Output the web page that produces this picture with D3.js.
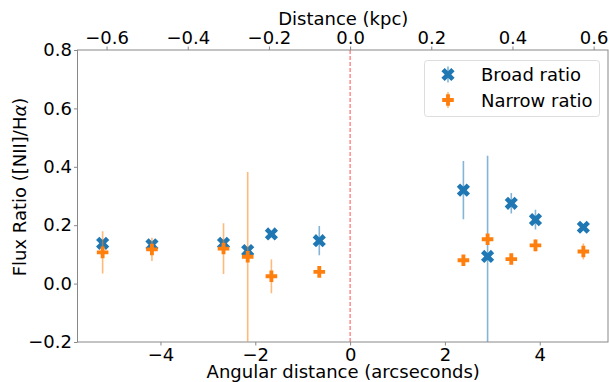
<!DOCTYPE html>
<html>
<head>
<meta charset="utf-8">
<script src="https://cdn.jsdelivr.net/npm/d3@7"></script>
<style>
  body { margin: 0; background: #fff; }
  text { font-family: "DejaVu Sans", sans-serif; }
</style>
</head>
<body>
<script>
// angular offsets (arcsec) and flux ratios
var angDist = [-5.22, -4.18, -2.67, -2.16, -1.66, -0.65, 2.39, 2.90, 3.40, 3.91, 4.92];
var broad = [0.138, 0.133, 0.138, 0.113, 0.170, 0.147, 0.320, 0.093, 0.275, 0.219, 0.193];
var broadErr = [0.012, 0.010, 0.012, 0.010, 0.008, 0.050, 0.100, 0.345, 0.035, 0.034, 0.008];
var narrow = [0.107, 0.117, 0.120, 0.092, 0.025, 0.040, 0.080, 0.152, 0.084, 0.131, 0.110];
var narrowErr = [0.072, 0.040, 0.087, 0.290, 0.058, 0.010, 0.010, 0.010, 0.010, 0.020, 0.027];
var yTicks = [-0.2, 0, 0.2, 0.4, 0.6, 0.8];
var xTicks = [-4, -2, 0, 2, 4];
var kpcTicks = [-0.6, -0.4, -0.2, 0, 0.2, 0.4, 0.6];
var kpcPerArcsec = 0.1168;

var W = 609, H = 382,
	pLeft = 77.5, pRight = 608, pTop = 50, pBottom = 342,
	fs = 18;

var svg = d3.select("body").append("svg")
	.attr("width", W)
	.attr("height", H);

var x = d3.scaleLinear().domain([-5.75, 5.44]).range([pLeft, pRight]);
var xk = d3.scaleLinear().domain([-5.75 * kpcPerArcsec, 5.44 * kpcPerArcsec]).range([pLeft, pRight]);
var y = d3.scaleLinear().domain([-0.2, 0.8]).range([pBottom, pTop]);

var fmt = function(d) { return d3.format(".1f")(d).replace("-", "\u2212"); };
var fmtInt = function(d) { return String(d).replace("-", "\u2212"); };

function styleAxis(g) {
	g.select(".domain").remove();
	g.selectAll(".tick line").attr("stroke", "#888");
	g.selectAll(".tick text").attr("font-size", fs).attr("fill", "#000");
}

svg.append("g")
	.attr("transform", "translate(0," + pBottom + ")")
	.call(d3.axisBottom(x).tickValues(xTicks).tickFormat(fmtInt).tickSize(3.5).tickPadding(3))
	.call(styleAxis);

svg.append("g")
	.attr("transform", "translate(0," + pTop + ")")
	.call(d3.axisTop(xk).tickValues(kpcTicks).tickFormat(fmt).tickSize(3.5).tickPadding(3))
	.call(styleAxis);

svg.append("g")
	.attr("transform", "translate(" + pLeft + ",0)")
	.call(d3.axisLeft(y).tickValues(yTicks).tickFormat(fmt).tickSize(3.5).tickPadding(2))
	.call(styleAxis);

// zero line
svg.append("line")
	.attr("x1", x(0)).attr("x2", x(0))
	.attr("y1", pTop).attr("y2", pBottom)
	.attr("stroke", "red")
	.attr("stroke-opacity", 0.7)
	.attr("stroke-width", 1)
	.attr("stroke-dasharray", "4,2");

// markers: matplotlib style filled plus ('P') and filled x ('X')
function plusPath(h) {
	var a = h / 3;
	return "M" + [[-a, -h], [a, -h], [a, -a], [h, -a], [h, a], [a, a], [a, h], [-a, h], [-a, a], [-h, a], [-h, -a], [-a, -a]]
		.map(function(p) { return p.join(","); }).join("L") + "Z";
}

svg.append("clipPath").attr("id", "plotclip")
	.append("rect").attr("x", pLeft).attr("y", pTop)
	.attr("width", pRight - pLeft).attr("height", pBottom - pTop);

var plot = svg.append("g").attr("clip-path", "url(#plotclip)");

function drawSeries(vals, errs, color, path, rot) {
	var data = angDist.map(function(d, i) { return { x: d, v: vals[i], e: errs[i] }; });
	plot.append("g").selectAll("line")
		.data(data)
		.enter().append("line")
		.attr("x1", function(d) { return x(d.x); })
		.attr("x2", function(d) { return x(d.x); })
		.attr("y1", function(d) { return y(d.v - d.e); })
		.attr("y2", function(d) { return y(d.v + d.e); })
		.attr("stroke", color)
		.attr("stroke-opacity", 0.55)
		.attr("stroke-width", 1.6);
	plot.append("g").selectAll("path")
		.data(data)
		.enter().append("path")
		.attr("d", path)
		.attr("transform", function(d) { return "translate(" + x(d.x) + "," + y(d.v) + ") rotate(" + rot + ")"; })
		.attr("fill", color);
}

drawSeries(broad, broadErr, "#1f77b4", plusPath(7), 45);
drawSeries(narrow, narrowErr, "#ff7f0e", plusPath(5.8), 0);

// frame
svg.append("rect")
	.attr("x", pLeft).attr("y", pTop)
	.attr("width", pRight - pLeft).attr("height", pBottom - pTop)
	.attr("fill", "none")
	.attr("stroke", "#888")
	.attr("stroke-width", 1);

// labels
svg.append("text")
	.attr("x", (pLeft + pRight) / 2 + 0.5).attr("y", 378)
	.attr("text-anchor", "middle").attr("font-size", fs)
	.text("Angular distance (arcseconds)");

svg.append("text")
	.attr("x", (pLeft + pRight) / 2 + 0.5).attr("y", 25)
	.attr("text-anchor", "middle").attr("font-size", fs)
	.text("Distance (kpc)");

var yl = svg.append("text")
	.attr("transform", "translate(26,187) rotate(-90)")
	.attr("text-anchor", "middle").attr("font-size", fs);
yl.append("tspan").text("Flux Ratio ([NII]/H");
yl.append("tspan").attr("font-style", "italic").text("\u03b1");
yl.append("tspan").text(")");

// legend
var leg = svg.append("g");
leg.append("rect")
	.attr("x", 424.5).attr("y", 60.5)
	.attr("width", 175).attr("height", 56)
	.attr("rx", 3)
	.attr("fill", "#fff").attr("fill-opacity", 0.8)
	.attr("stroke", "#ddd");

var legItems = [
	{ label: "Broad ratio", color: "#1f77b4", path: plusPath(7), rot: 45, yy: 74.5 },
	{ label: "Narrow ratio", color: "#ff7f0e", path: plusPath(5.8), rot: 0, yy: 100 }
];
legItems.forEach(function(d) {
	leg.append("line")
		.attr("x1", 448).attr("x2", 448)
		.attr("y1", d.yy - 8).attr("y2", d.yy + 8)
		.attr("stroke", d.color).attr("stroke-opacity", 0.55).attr("stroke-width", 1.6);
	leg.append("path")
		.attr("d", d.path)
		.attr("transform", "translate(448," + d.yy + ") rotate(" + d.rot + ")")
		.attr("fill", d.color);
	leg.append("text")
		.attr("x", 481).attr("y", d.yy + 6.5)
		.attr("font-size", fs)
		.text(d.label);
});
</script>
</body>
</html>
